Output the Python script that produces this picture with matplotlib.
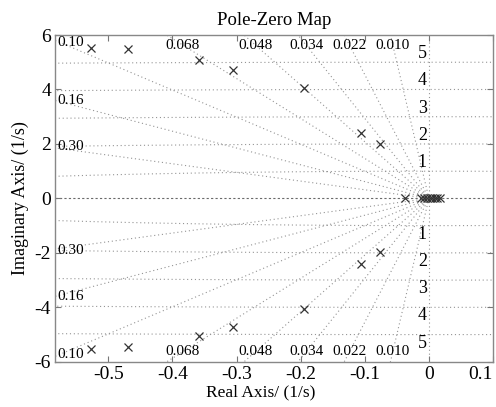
import numpy as np
import matplotlib
matplotlib.use("Agg")
import matplotlib.pyplot as plt

plt.rcParams['font.family'] = ['Liberation Serif', 'DejaVu Serif']

# poles (upper half, mirrored below)
pole_re = [-0.527, -0.469, -0.358, -0.305, -0.194, -0.106, -0.076]
pole_im = [5.54, 5.47, 5.07, 4.72, 4.07, 2.42, 1.98]
real_poles = [-0.0375, -0.012, -0.007, -0.003, 0.001, 0.005, 0.009, 0.013, 0.017]

zetas_top = [0.068, 0.048, 0.034, 0.022, 0.010]
zetas_left = [0.10, 0.16, 0.30]
wns = [1, 2, 3, 4, 5]

xmin, xmax = -0.583, 0.1
ymin, ymax = -6, 6

fig = plt.figure(figsize=(4.96, 4.07), dpi=100)
ax = fig.add_axes([0.111, 0.111, 0.883, 0.803])

gcol = '#959595'
gls = (0, (1, 2.5))

# damping ratio rays
for z in zetas_left + zetas_top:
    k = np.sqrt(1 - z**2) / z
    xs = np.array([0, -8])
    ax.plot(xs, -k * xs, color=gcol, ls=gls, lw=0.8, zorder=1)
    ax.plot(xs, k * xs, color=gcol, ls=gls, lw=0.8, zorder=1)

# natural frequency circles
th = np.linspace(0, np.pi, 2000)
for w in wns:
    ax.plot(-w * np.cos(th), w * np.sin(th), color=gcol, ls=gls, lw=0.8, zorder=1)
    ax.plot(-w * np.cos(th), -w * np.sin(th), color=gcol, ls=gls, lw=0.8, zorder=1)

ax.axhline(0, color='#6a6a6a', ls=(0, (2, 2)), lw=0.8, zorder=1)
ax.axvline(0, color=gcol, ls=gls, lw=0.8, zorder=1)

# labels
for z in zetas_top:
    k = np.sqrt(1 - z**2) / z
    yl = 5.63
    ax.text(-yl / k, yl, f"{z:.3f}", ha='center', va='center', fontsize=11, zorder=3)
    ax.text(-yl / k, -yl, f"{z:.3f}", ha='center', va='center', fontsize=11, zorder=3)
for z in zetas_left:
    k = np.sqrt(1 - z**2) / z
    yl = k * 0.565 + 0.12
    ax.text(-0.579, yl, f"{z:.2f}", ha='left', va='center', fontsize=11, zorder=3)
    ax.text(-0.579, -yl, f"{z:.2f}", ha='left', va='center', fontsize=11, zorder=3)
for w in wns:
    ax.text(-0.003, w + 0.0, str(w), ha='right', va='bottom', fontsize=13, zorder=3)
    ax.text(-0.003, -w - 0.0, str(w), ha='right', va='top', fontsize=13, zorder=3)

# poles
mk = dict(marker='x', ls='none', color='#333333', ms=5.5, mew=0.9, zorder=4)
ax.plot(pole_re, pole_im, **mk)
ax.plot(pole_re, [-v for v in pole_im], **mk)
ax.plot(real_poles, [0] * len(real_poles), **mk)

ax.set_xlim(xmin, xmax)
ax.set_ylim(ymin, ymax)
ax.set_xticks([-0.5, -0.4, -0.3, -0.2, -0.1, 0, 0.1])
ax.set_xticklabels(['-0.5', '-0.4', '-0.3', '-0.2', '-0.1', '0', '0.1'])
ax.set_yticks([-6, -4, -2, 0, 2, 4, 6])
ax.set_yticklabels(['-6', '-4', '-2', '0', '2', '4', '6'])
ax.get_xticklabels()[-1].set_horizontalalignment('right')
ax.tick_params(direction='in', top=True, right=True, length=4, labelsize=14,
               color='#777777', width=0.8, pad=3)
for s in ax.spines.values():
    s.set_color('#888888')
    s.set_linewidth(1.0)

ax.set_title('Pole-Zero Map', fontsize=13.5, pad=7)
ax.set_xlabel('Real Axis/ (1/s)', fontsize=12.5, labelpad=1)
ax.xaxis.set_label_coords(0.47, -0.07)
ax.set_ylabel('Imaginary Axis/ (1/s)', fontsize=13, labelpad=4)

fig.savefig('out.png', dpi=100)
